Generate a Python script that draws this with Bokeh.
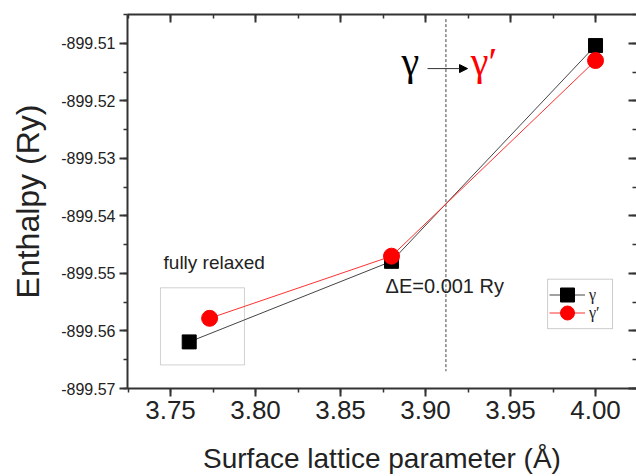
from bokeh.plotting import figure
from bokeh.models import (LinearAxis, SingleIntervalTicker, PrintfTickFormatter,
                          CustomJSTickFormatter, BoxAnnotation, Label, Arrow,
                          NormalHead, Legend, LegendItem, Range1d)
from bokeh.embed import file_html
from bokeh.resources import INLINE

# Enthalpy vs. surface lattice parameter for the two phases
lattice_gamma = [3.761, 3.880, 4.000]
enthalpy_gamma = [-899.5619, -899.5479, -899.5104]
lattice_gamma_p = [3.773, 3.880, 4.000]
enthalpy_gamma_p = [-899.5578, -899.5470, -899.5130]

# phase transition marker and the "fully relaxed" frame (data units)
transition_x = 3.912
transition_y = [-899.5058, -899.5670]
relaxed_box = dict(left=3.7441, right=3.7935, top=-899.5525, bottom=-899.5659)
legend_box = dict(left=3.9718, right=4.0100, top=-899.5510, bottom=-899.5596)

SANS = "Liberation Sans"
SERIF = "Liberation Serif"
AXIS_COLOR = "#333333"

p = figure(width=636, height=476, output_backend="svg", toolbar_location=None,
           x_range=Range1d(3.7247, 4.0241), y_range=Range1d(-899.570, -899.5050),
           x_axis_label="Surface lattice parameter (Å)",
           y_axis_label="Enthalpy (Ry)")
p.min_border_left = 127
p.min_border_top = 14
p.min_border_bottom = 87
p.min_border_right = 0
p.outline_line_color = None
p.grid.visible = False
p.background_fill_color = "white"
p.border_fill_color = "white"

xa = p.xaxis[0]
xa.ticker = SingleIntervalTicker(interval=0.05, num_minor_ticks=2)
xa.formatter = PrintfTickFormatter(format="%.2f")
ya = p.yaxis[0]
ya.ticker = SingleIntervalTicker(interval=0.01, num_minor_ticks=2)
ya.formatter = PrintfTickFormatter(format="%.2f")

for ax in (xa, ya):
    ax.axis_line_color = AXIS_COLOR
    ax.axis_line_width = 2
    ax.major_tick_line_color = AXIS_COLOR
    ax.minor_tick_line_color = AXIS_COLOR
    ax.major_tick_line_width = 2
    ax.minor_tick_line_width = 1.5
    ax.major_tick_in = 0
    ax.major_tick_out = 8
    ax.minor_tick_in = 0
    ax.minor_tick_out = 4
    ax.major_label_text_font = SANS
    ax.major_label_text_color = "#222222"
    ax.axis_label_text_font = SANS
    ax.axis_label_text_font_style = "normal"
    ax.axis_label_text_color = "#222222"

xa.major_label_text_font_size = "26px"
xa.major_label_standoff = 4
xa.axis_label_text_font_size = "28px"
xa.axis_label_standoff = 21
ya.major_label_text_font_size = "16px"
ya.major_label_standoff = 4
ya.axis_label_text_font_size = "32px"
ya.axis_label_standoff = 12

# mirrored axes on top and right: inward ticks, no labels
blank = CustomJSTickFormatter(code="return ''")
top = LinearAxis(ticker=SingleIntervalTicker(interval=0.05, num_minor_ticks=2), formatter=blank)
right = LinearAxis(ticker=SingleIntervalTicker(interval=0.01, num_minor_ticks=2), formatter=blank)
for ax in (top, right):
    ax.major_label_text_font_size = "1px"
    ax.major_label_standoff = 0
    ax.major_tick_in = 8
    ax.major_tick_out = 0
    ax.minor_tick_in = 4
    ax.minor_tick_out = 0
    ax.major_tick_line_color = AXIS_COLOR
    ax.minor_tick_line_color = AXIS_COLOR
    ax.major_tick_line_width = 2
    ax.minor_tick_line_width = 1.5
    ax.axis_line_color = AXIS_COLOR
    ax.axis_line_width = 2
right.axis_line_color = None
p.add_layout(top, "above")
p.add_layout(right, "right")

# dashed transition line
p.segment(x0=[transition_x], y0=[transition_y[0]], x1=[transition_x], y1=[transition_y[1]],
          line_color="#444444", line_width=1, line_dash="3 2")

# "fully relaxed" frame and the legend frame
p.add_layout(BoxAnnotation(fill_alpha=0, line_color="#666666", line_width=1, **relaxed_box))
p.add_layout(BoxAnnotation(fill_color="white", fill_alpha=1, line_color="#555555",
                           line_width=1, level="underlay", **legend_box))

l1 = p.line(lattice_gamma, enthalpy_gamma, line_color="#444444", line_width=1)
m1 = p.scatter(lattice_gamma, enthalpy_gamma, marker="square", size=14,
               fill_color="black", line_color="black")
l2 = p.line(lattice_gamma_p, enthalpy_gamma_p, line_color="#ff3030", line_width=1)
m2 = p.scatter(lattice_gamma_p, enthalpy_gamma_p, marker="circle", size=16,
               fill_color="red", line_color="red")

p.add_layout(Label(x=3.7459, y=-899.5500, text="fully relaxed", text_font=SANS,
                   text_font_size="19px", text_color="#222222"))
p.add_layout(Label(x=3.8765, y=-899.5541, text="ΔE=0.001 Ry", text_font=SANS,
                   text_font_size="20px", text_color="#222222"))
p.add_layout(Label(x=3.8858, y=-899.5170, text="γ", text_font=SERIF,
                   text_font_size="40px", text_color="black"))
p.add_layout(Label(x=3.9266, y=-899.5170, text="γ′", text_font=SERIF,
                   text_font_size="40px", text_color="red"))
p.add_layout(Arrow(end=NormalHead(size=8, fill_color="black", line_color="black"),
                   x_start=3.9012, y_start=-899.5144, x_end=3.9247, y_end=-899.5144,
                   line_color="#333333", line_width=1))

# one legend per row so the key markers can be drawn at full size
def key(label, renderers, loc):
    lg = Legend(items=[LegendItem(label=label, renderers=renderers)], location=loc)
    lg.label_text_font = SERIF
    lg.label_text_font_size = "16px"
    lg.label_text_color = "#222222"
    lg.glyph_width = 36
    lg.glyph_height = 35
    lg.label_height = 16
    lg.label_standoff = 4
    lg.padding = 0
    lg.margin = 0
    lg.border_line_color = None
    lg.background_fill_alpha = 0
    return lg

p.add_layout(key("γ", [l1, m1], (422, 76)))
p.add_layout(key("γ′", [l2, m2], (422, 58)))

open("out.html", "w").write(file_html(p, INLINE))
